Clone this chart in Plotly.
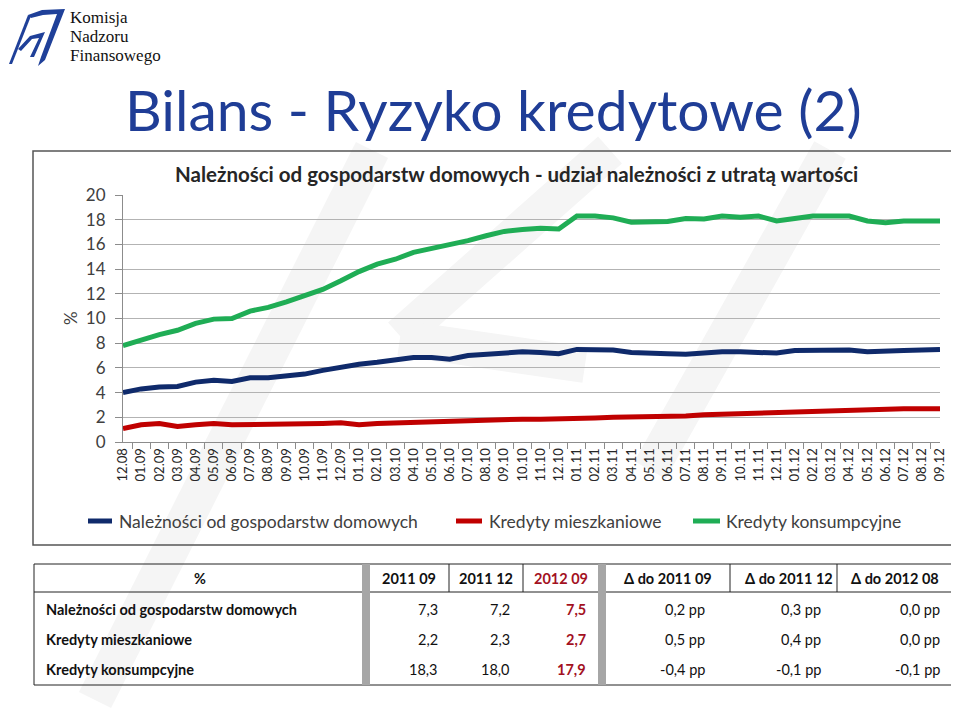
import plotly.graph_objects as go

# months on the x axis (12.2008 - 09.2012)
months = ["12.08", "01.09", "02.09", "03.09", "04.09", "05.09", "06.09", "07.09", "08.09",
          "09.09", "10.09", "11.09", "12.09", "01.10", "02.10", "03.10", "04.10", "05.10",
          "06.10", "07.10", "08.10", "09.10", "10.10", "11.10", "12.10", "01.11", "02.11",
          "03.11", "04.11", "05.11", "06.11", "07.11", "08.11", "09.11", "10.11", "11.11",
          "12.11", "01.12", "02.12", "03.12", "04.12", "05.12", "06.12", "07.12", "08.12",
          "09.12"]

# share of impaired loans, %
gosp = [4.0, 4.3, 4.45, 4.5, 4.85, 5.0, 4.9, 5.2, 5.2, 5.35, 5.5, 5.8, 6.1, 6.3, 6.45,
        6.7, 6.85, 6.85, 6.7, 7.0, 7.1, 7.25, 7.3, 7.25, 7.15, 7.5, 7.5, 7.45, 7.25, 7.25,
        7.15, 7.1, 7.25, 7.3, 7.3, 7.25, 7.2, 7.4, 7.45, 7.45, 7.45, 7.3, 7.3, 7.4, 7.45, 7.5]
mieszk = [1.08, 1.4, 1.5, 1.25, 1.4, 1.5, 1.4, 1.4, 1.4, 1.4, 1.45, 1.5, 1.55, 1.4, 1.5,
          1.55, 1.6, 1.65, 1.7, 1.75, 1.8, 1.85, 1.85, 1.85, 1.85, 1.9, 1.95, 2.0, 2.0, 2.05,
          2.1, 2.1, 2.2, 2.25, 2.25, 2.3, 2.35, 2.45, 2.5, 2.55, 2.55, 2.65, 2.7, 2.7, 2.7, 2.7]
konsum = [7.8, 8.3, 8.7, 9.05, 9.6, 9.95, 10.0, 10.6, 10.9, 11.35, 11.8, 12.35, 13.05, 13.8,
          14.4, 14.8, 15.35, 15.65, 15.9, 16.3, 16.7, 17.05, 17.2, 17.3, 17.25, 18.3, 18.3,
          18.15, 17.8, 17.85, 17.85, 18.1, 18.05, 18.3, 18.2, 18.3, 17.9, 18.1, 18.3, 18.3,
          18.3, 17.9, 17.75, 17.9, 17.95, 17.9]

series_names = ["Należności od gospodarstw domowych", "Kredyty mieszkaniowe", "Kredyty konsumpcyjne"]
series_colors = ["#0f2a6b", "#c00000", "#1fad55"]

# table under the chart
table_head = ["2011 09", "2011 12", "2012 09", "Δ do 2011 09", "Δ do 2011 12", "Δ do 2012 08"]
row_gosp = ["7,3", "7,2", "7,5", "0,2 pp", "0,3 pp", "0,0 pp"]
row_mieszk = ["2,2", "2,3", "2,7", "0,5 pp", "0,4 pp", "0,0 pp"]
row_konsum = ["18,3", "18,0", "17,9", "-0,4 pp", "-0,1 pp", "-0,1 pp"]

W, H = 959, 723
OFF = 8  # the page body adds an 8px margin around the figure
FONT = "Lato"
RED = "#a3111f"


def px(x):
    return (x - OFF) / W


def py(y):
    return 1 - (y - OFF) / H


def path(points):
    s = "M " + " L ".join(f"{px(x):.5f},{py(y):.5f}" for x, y in points)
    return s + " Z"


fig = go.Figure()
for vals, name, col in zip([gosp, mieszk, konsum], series_names, series_colors):
    fig.add_trace(go.Scatter(x=months, y=vals, mode="lines", name=name,
                             line=dict(color=col, width=5), showlegend=False))

shapes = []
# faint watermark of the logo
for (x0, y0, x1, y1) in [(95, 700, 372, 150), (610, 150, 400, 336), (400, 338, 585, 365),
                         (830, 150, 650, 470)]:
    shapes.append(dict(type="line", xref="paper", yref="paper", x0=px(x0), y0=py(y0),
                       x1=px(x1), y1=py(y1), line=dict(color="#f5f5f5", width=36),
                       layer="below"))

# logo
logo_blue = "#1f4099"
shapes.append(dict(type="path", xref="paper", yref="paper", fillcolor=logo_blue, line_width=0,
                   path=path([(9, 64), (12, 64), (31, 16), (28, 15)])))
shapes.append(dict(type="path", xref="paper", yref="paper", fillcolor=logo_blue, line_width=0,
                   path=path([(28, 15), (42, 10), (65, 9), (45, 60), (38, 66), (41, 57),
                              (57, 14), (43, 15), (31, 18)])))
shapes.append(dict(type="path", xref="paper", yref="paper", fillcolor=logo_blue, line_width=0,
                   path=path([(18, 49), (30, 36), (45, 32), (34, 57), (30, 57), (39, 38),
                              (32, 39), (21, 51)])))

# chart frame
shapes.append(dict(type="rect", xref="paper", yref="paper", x0=px(33), y0=py(151), x1=px(955),
                   y1=py(545), line=dict(color="#555555", width=1.5)))

# manual legend
leg_y = 521
for (x0, x1), col in zip([(88, 112), (456, 482), (693, 720)], series_colors):
    shapes.append(dict(type="line", xref="paper", yref="paper", x0=px(x0), x1=px(x1),
                       y0=py(leg_y), y1=py(leg_y), line=dict(color=col, width=5)))

# table frame
shapes.append(dict(type="rect", xref="paper", yref="paper", x0=px(34), y0=py(564), x1=px(954),
                   y1=py(685), line=dict(color="#222222", width=1)))
shapes.append(dict(type="line", xref="paper", yref="paper", x0=px(34), x1=px(954),
                   y0=py(592), y1=py(592), line=dict(color="#222222", width=1)))
for xv in [449, 523, 730, 837]:
    shapes.append(dict(type="line", xref="paper", yref="paper", x0=px(xv), x1=px(xv),
                       y0=py(564), y1=py(592), line=dict(color="#222222", width=1)))
for xa, xb in [(362, 370), (598, 606)]:
    shapes.append(dict(type="rect", xref="paper", yref="paper", x0=px(xa), x1=px(xb),
                       y0=py(564), y1=py(685), fillcolor="#a6a6a6", line_width=0))

ann = []
# logo text
for txt, yy in [("Komisja", 18), ("Nadzoru", 37), ("Finansowego", 56)]:
    ann.append(dict(text=txt, x=px(68), y=py(yy), xanchor="left", yanchor="middle",
                    font=dict(family="Liberation Serif", size=17, color="#111111")))
ann.append(dict(text="Bilans - Ryzyko kredytowe (2)", x=px(493), y=py(109), xanchor="center",
                yanchor="middle", font=dict(family=FONT, size=57, color="#1f3d96")))
ann.append(dict(text="<b>Należności od gospodarstw domowych - udział należności z utratą wartości</b>",
                x=px(516), y=py(174), xanchor="center", yanchor="middle",
                font=dict(family=FONT, size=20.5, color="#262626")))
ann.append(dict(text="%", x=px(70), y=py(318), textangle=-90, xanchor="center", yanchor="middle",
                font=dict(family=FONT, size=17, color="#404040")))
for xt, name in zip([117, 487, 724], series_names):
    ann.append(dict(text=name, x=px(xt), y=py(leg_y), xanchor="left", yanchor="middle",
                    font=dict(family=FONT, size=17.5, color="#404040")))

# table text
tfont = dict(family=FONT, size=14.5, color="#111111")
ann.append(dict(text="<b>%</b>", x=px(200), y=py(578), xanchor="center", yanchor="middle",
                font=tfont))
for xc, h in zip([409, 486, 561, 668, 789, 895], table_head):
    f = dict(tfont, color=RED) if h == "2012 09" else tfont
    ann.append(dict(text=f"<b>{h}</b>", x=px(xc), y=py(578), xanchor="center",
                    yanchor="middle", font=f))
for yr, label, row in zip([609, 639, 669], series_names, [row_gosp, row_mieszk, row_konsum]):
    ann.append(dict(text=f"<b>{label}</b>", x=px(44), y=py(yr), xanchor="left",
                    yanchor="middle", font=tfont))
    for k, (xr, v) in enumerate(zip([440, 512, 588, 707, 823, 942], row)):
        if k == 2:
            txt, f = f"<b>{v}</b>", dict(tfont, color=RED)
        else:
            txt, f = v, tfont
        ann.append(dict(text=txt, x=px(xr), y=py(yr), xanchor="right", yanchor="middle",
                        font=f))

for a in ann:
    a.update(xref="paper", yref="paper", showarrow=False)

fig.update_layout(width=W, height=H, autosize=False,
                  margin=dict(l=0, r=0, t=0, b=0, pad=0, autoexpand=False),
                  paper_bgcolor="white", plot_bgcolor="rgba(0,0,0,0)",
                  shapes=shapes, annotations=ann, font=dict(family=FONT))
fig.update_xaxes(type="category", domain=[px(123), px(940)], showgrid=False, automargin=False,
                 showline=True, linecolor="#8c8c8c", linewidth=1, ticks="outside",
                 tickson="boundaries", ticklen=6, tickcolor="#8c8c8c", tickangle=-90,
                 tickfont=dict(family=FONT, size=13, color="#262626"))
fig.update_yaxes(domain=[py(442), py(195)], range=[0, 20], dtick=2, showgrid=True,
                 automargin=False,
                 gridcolor="#b3b3b3", gridwidth=1, showline=True, linecolor="#8c8c8c",
                 ticks="outside", ticklen=7, tickcolor="#8c8c8c", zeroline=False,
                 ticklabelstandoff=6,
                 tickfont=dict(family=FONT, size=17, color="#404040"))

fig.write_html("out.html")
